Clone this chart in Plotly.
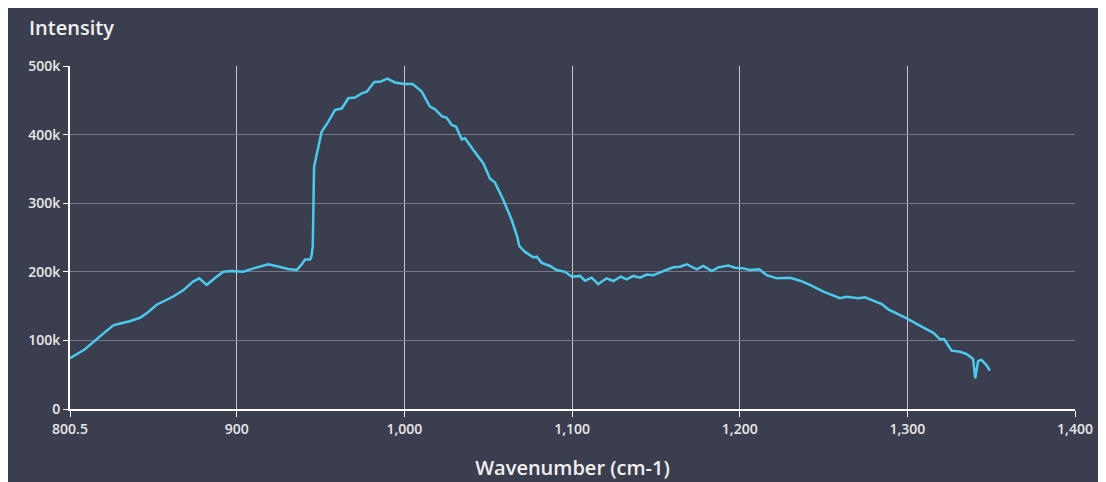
import plotly.graph_objects as go

# Wavenumber (cm-1) and intensity values
wavenumber = [
    800.5, 809.4, 817.5, 826.3, 829.3, 836.0, 842.3, 847.0, 852.2, 862.1, 868.0, 874.1, 877.6, 882.0,
    887.0, 892.0, 897.0, 903.9, 910.0, 918.8, 925.8, 930.5, 935.7, 938.5, 940.7, 943.7, 944.5, 945.3, 946.1,
    947.7, 950.6, 954.6, 958.6, 962.6, 966.5, 970.5, 974.5, 977.5, 982.0, 985.4, 989.8,
    994.4, 999.7, 1004.9, 1010.3, 1015.2, 1018.2, 1022.2, 1025.2, 1028.2, 1030.8, 1034.2,
    1036.1, 1041.1, 1047.1, 1051.0, 1054.0, 1059.0, 1064.0, 1067.3, 1068.5, 1071.9, 1076.9,
    1078.9, 1081.9, 1086.8, 1090.8, 1095.8, 1099.8, 1104.7, 1107.7, 1111.7, 1115.6, 1120.6,
    1124.6, 1129.0, 1132.6, 1136.5, 1140.5, 1144.5, 1148.4, 1154.4, 1160.4, 1164.4, 1168.4,
    1174.3, 1178.3, 1183.3, 1187.2, 1193.2, 1197.1, 1202.1, 1206.1, 1211.7, 1216.1, 1222.1,
    1230.0, 1236.0, 1241.9, 1249.9, 1259.8, 1263.8, 1270.7, 1274.7, 1280.7, 1284.7, 1288.6,
    1294.0, 1299.6, 1308.5, 1315.5, 1319.5, 1321.9, 1326.4, 1331.4, 1335.4, 1337.8, 1339.2,
    1340.5, 1342.2, 1344.2, 1347.2, 1349.2,
]
intensity = [
    74000, 87000, 104000, 122000, 124000, 128000, 133000, 141000, 152000, 164000, 173000, 186000, 190500, 181000,
    191000, 200000, 201000, 200000, 205000, 211000, 207000, 204000, 202600, 210000, 218000, 218000, 222000, 236600, 353000,
    372700, 404000, 419000, 436000, 438000, 453000, 454000, 460000, 462600, 476700, 477000, 481500,
    476000, 473800, 473800, 462600, 440700, 437000, 427000, 424600, 414000, 411500, 393000,
    394600, 377600, 358000, 336000, 330000, 304700, 275500, 251000, 237600, 229000, 221000,
    222000, 213000, 208500, 202600, 200000, 192900, 194000, 187000, 191500, 182000, 190500,
    186600, 193000, 189000, 194000, 191500, 196000, 195000, 201000, 206500, 207500, 211000,
    203600, 208500, 201000, 206500, 209000, 206000, 205000, 202600, 203600, 195000, 190500,
    191400, 187000, 180800, 171000, 161400, 163700, 161400, 162800, 156400, 153000, 145300,
    139000, 132000, 120000, 111000, 101600, 102000, 85000, 83500, 80000, 75000, 73000,
    44700, 70000, 71400, 64000, 56000,
]

x_tick_vals = [800.5, 900, 1000, 1100, 1200, 1300, 1400]
x_tick_text = ["800.5", "900", "1,000", "1,100", "1,200", "1,300", "1,400"]
y_tick_vals = [0, 100000, 200000, 300000, 400000, 500000]
y_tick_text = ["0", "100k", "200k", "300k", "400k", "500k"]

BG = "#3b3e4e"
FONT = "Open Sans"

fig = go.Figure()
fig.add_trace(go.Scatter(
    x=wavenumber, y=intensity, mode="lines",
    line=dict(color="#4ccaee", width=2.5),
    showlegend=False,
))

fig.update_layout(
    width=1106, height=482,
    margin=dict(l=62, r=39, t=58, b=81),
    paper_bgcolor=BG,
    plot_bgcolor=BG,
    font=dict(family=FONT, color="#e8e8e8", size=14),
    annotations=[dict(
        text="Intensity", xref="paper", yref="paper",
        x=-0.0428, y=1.113, xanchor="left", yanchor="middle",
        showarrow=False, font=dict(family=FONT, size=20, color="#f0f0f0", weight=600),
    )],
)

fig.update_xaxes(
    range=[800.5, 1400],
    tickvals=x_tick_vals, ticktext=x_tick_text,
    tickfont=dict(size=14, color="#e8e8e8", weight=600),
    showgrid=True, gridcolor="#c8c8c8", gridwidth=1,
    showline=True, linecolor="#ffffff", linewidth=2,
    ticks="outside", ticklen=6, tickcolor="#ffffff",
    zeroline=False,
    title=dict(text="Wavenumber (cm-1)", font=dict(family=FONT, size=20, color="#f0f0f0", weight=600), standoff=24),
)
fig.update_yaxes(
    range=[0, 500000],
    tickvals=y_tick_vals, ticktext=y_tick_text,
    tickfont=dict(size=14, color="#e8e8e8", weight=600),
    showgrid=True, gridcolor="#76788a", gridwidth=1,
    showline=True, linecolor="#ffffff", linewidth=2,
    ticks="outside", ticklen=5, tickcolor="#ffffff",
    zeroline=False,
)

fig.write_html("out.html")
